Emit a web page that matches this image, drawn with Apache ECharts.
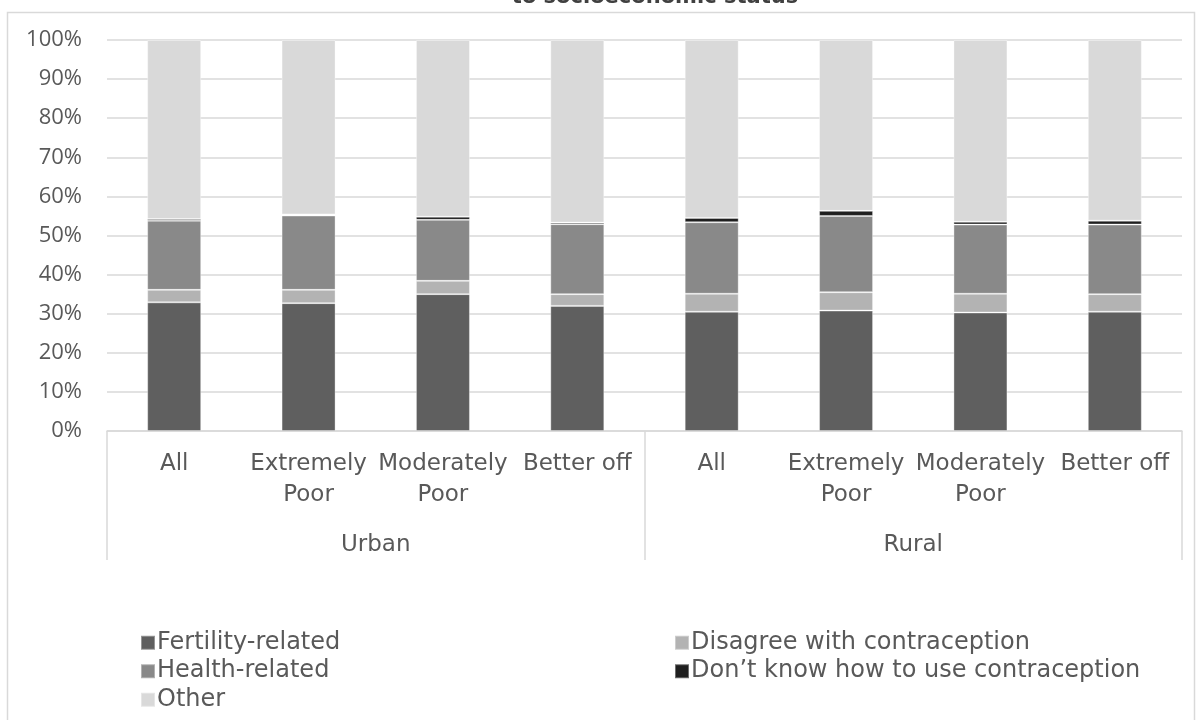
<!DOCTYPE html>
<html>
<head>
<meta charset="utf-8">
<script src="https://cdn.jsdelivr.net/npm/echarts@6/dist/echarts.min.js"></script>
<style>
  html, body { margin: 0; padding: 0; background: #fff; }
  #main { width: 1200px; height: 720px; }
</style>
</head>
<body>
<div id="main"></div>
<script>
// categories (8 bars, two groups)
const categories = ['All', 'Extremely\nPoor', 'Moderately\nPoor', 'Better off',
                    'All', 'Extremely\nPoor', 'Moderately\nPoor', 'Better off'];
const groups = ['Urban', 'Rural'];
const yTicks = [0, 10, 20, 30, 40, 50, 60, 70, 80, 90, 100];

// shares in %
const fertility = [32.9, 32.7, 35.0, 32.0, 30.5, 30.8, 30.3, 30.5];
const disagree  = [3.2, 3.4, 3.4, 3.0, 4.6, 4.7, 4.8, 4.5];
const health    = [17.7, 19.0, 15.6, 17.9, 18.3, 19.5, 17.7, 17.8];
const dontKnow  = [0.4, 0.3, 0.8, 0.4, 1.1, 1.3, 0.7, 1.0];
const other     = [45.8, 44.6, 45.2, 46.7, 45.5, 43.7, 46.5, 46.2];

const seriesNames = ['Fertility-related', 'Disagree with contraception', 'Health-related',
                     'Don\u2019t know how to use contraception', 'Other'];
const seriesData = [fertility, disagree, health, dontKnow, other];
const seriesColors = ['#5f5f5f', '#b3b3b3', '#898989', '#1f1f1f', '#d9d9d9'];

const labelColor = '#595959';
const gridColor = '#d9d9d9';

let myChart = echarts.init(document.getElementById('main'));

let legendStyle = {
  orient: 'vertical',
  top: 625,
  itemWidth: 14,
  itemHeight: 14,
  itemGap: 3,
  icon: 'rect',
  textStyle: { fontFamily: 'DejaVu Sans', fontSize: 24, color: labelColor, lineHeight: 25.5, padding: [0, 0, 0, -3] }
};

let option = {
  animation: false,
  title: {
    text: 'to socioeconomic status',
    left: 650,
    top: -18,
    textAlign: 'center',
    textStyle: { fontFamily: 'DejaVu Sans', fontWeight: 'bold', fontSize: 21, color: '#404040' }
  },
  graphic: [{
    type: 'rect',
    shape: { x: 7.5, y: 12.5, width: 1187, height: 730 },
    style: { fill: 'none', stroke: gridColor, lineWidth: 1.5 },
    silent: true
  }],
  legend: [
    Object.assign({ left: 135, data: [seriesNames[0], seriesNames[2], seriesNames[4]] }, legendStyle),
    Object.assign({ left: 669, data: [seriesNames[1], seriesNames[3]] }, legendStyle)
  ],
  grid: { left: 107, right: 18, top: 40, bottom: 289, containLabel: false },
  xAxis: [
    {
      type: 'category',
      data: categories,
      axisLine: { show: true, lineStyle: { color: gridColor, width: 1.5 } },
      axisTick: { show: false },
      axisLabel: {
        interval: 0, margin: 18, lineHeight: 31,
        fontFamily: 'DejaVu Sans', fontSize: 23, color: labelColor
      }
    },
    {
      type: 'category',
      data: groups,
      position: 'bottom',
      axisLine: { show: false },
      axisTick: { show: true, length: 129, lineStyle: { color: gridColor, width: 1.5 } },
      axisLabel: { margin: 103, fontFamily: 'DejaVu Sans', fontSize: 23, color: labelColor }
    }
  ],
  yAxis: {
    type: 'value',
    min: yTicks[0],
    max: yTicks[yTicks.length - 1],
    interval: 10,
    axisLine: { show: false },
    axisTick: { show: false },
    splitLine: { lineStyle: { color: gridColor, width: 1.5 } },
    axisLabel: {
      margin: 25, formatter: '{value}%',
      fontFamily: 'Open Sans', fontSize: 22, color: labelColor
    }
  },
  series: seriesNames.map((name, i) => ({
    name: name,
    type: 'bar',
    stack: 'total',
    barWidth: 54,
    data: seriesData[i],
    itemStyle: { color: seriesColors[i], borderColor: 'rgba(255,255,255,0.35)', borderWidth: 1 }
  }))
};
myChart.setOption(option, true);
</script>
</body>
</html>
